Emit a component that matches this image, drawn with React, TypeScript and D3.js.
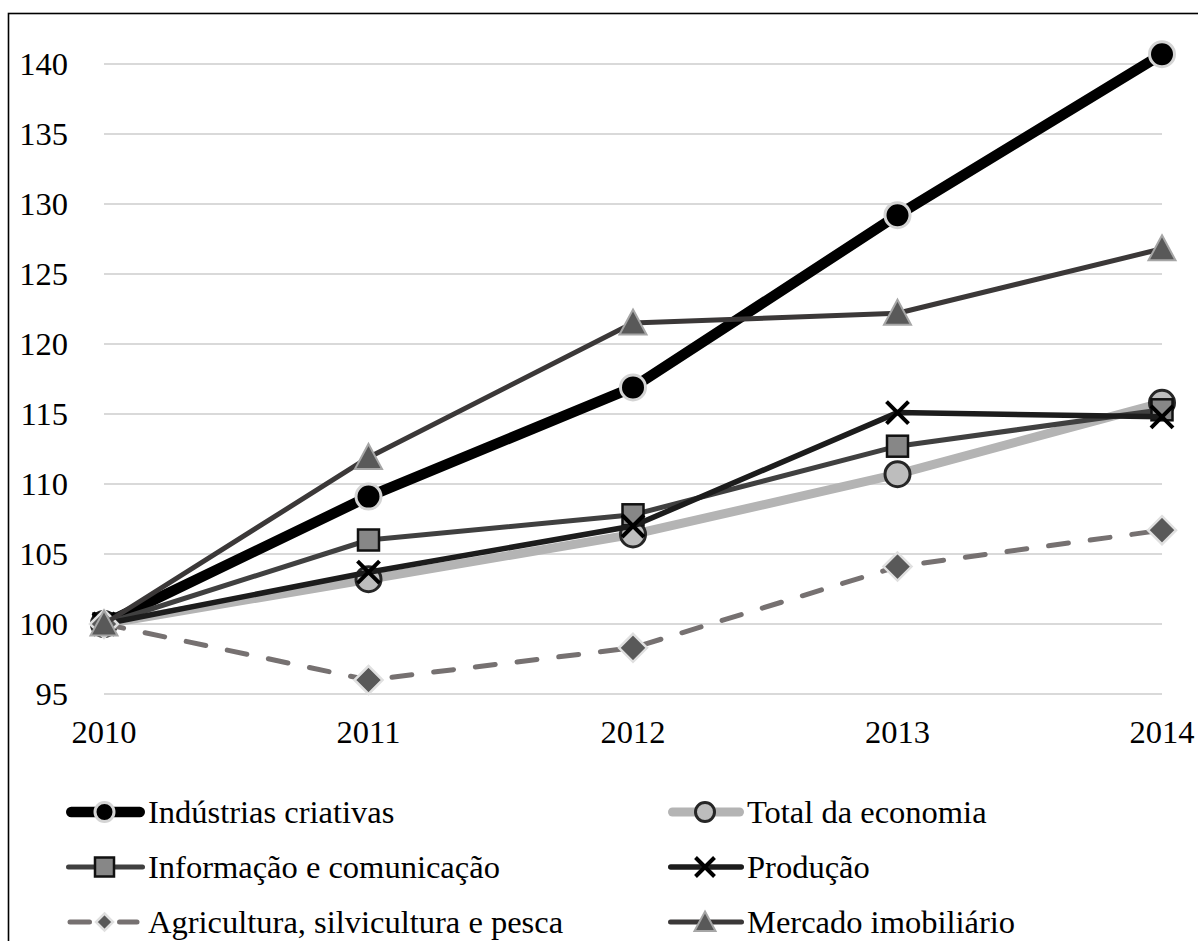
import React from "react";
import * as d3 from "d3";

// Index values (2010 = 100)
const years = ["2010", "2011", "2012", "2013", "2014"];
const industriasCriativas = [100, 109.1, 116.9, 129.2, 140.7];
const totalEconomia = [100, 103.2, 106.4, 110.7, 115.8];
const informacaoComunicacao = [100, 106.0, 107.8, 112.7, 115.3];
const producao = [100, 103.7, 107.0, 115.1, 114.8];
const agricultura = [100, 96.0, 98.3, 104.1, 106.7];
const mercadoImobiliario = [100, 111.9, 121.5, 122.2, 126.8];
const yTicks = [95, 100, 105, 110, 115, 120, 125, 130, 135, 140];

type Marker = "circle" | "square" | "x" | "diamond" | "triangle";

interface Series {
  name: string;
  values: number[];
  stroke: string;
  width: number;
  dash?: string;
  marker: Marker;
  mFill: string;
  mStroke: string;
  mStrokeW: number;
}

const series: Series[] = [
  { name: "Indústrias criativas", values: industriasCriativas, stroke: "#000000", width: 10.5, marker: "circle", mFill: "#000000", mStroke: "#d4d4d4", mStrokeW: 3 },
  { name: "Total da economia", values: totalEconomia, stroke: "#b4b4b4", width: 9, marker: "circle", mFill: "#bdbdbd", mStroke: "#262626", mStrokeW: 3 },
  { name: "Informação e comunicação", values: informacaoComunicacao, stroke: "#404040", width: 5, marker: "square", mFill: "#878787", mStroke: "#111111", mStrokeW: 2.5 },
  { name: "Produção", values: producao, stroke: "#1c1c1c", width: 5.5, marker: "x", mFill: "none", mStroke: "#000000", mStrokeW: 4 },
  { name: "Agricultura, silvicultura e pesca", values: agricultura, stroke: "#767171", width: 5, dash: "20 22", marker: "diamond", mFill: "#595959", mStroke: "#e0e0e0", mStrokeW: 2.5 },
  { name: "Mercado imobiliário", values: mercadoImobiliario, stroke: "#3b3838", width: 5, marker: "triangle", mFill: "#595959", mStroke: "#a6a6a6", mStrokeW: 2 },
];

const FONT = "'Liberation Serif', 'Times New Roman', serif";
const FS = 32.5;

const x = d3.scalePoint<string>().domain(years).range([104, 1162]);
const y = d3.scaleLinear().domain([95, 140]).range([694, 64]);

function MarkerShape({ kind, cx, cy, size, fill, stroke, sw }: { kind: Marker; cx: number; cy: number; size: number; fill: string; stroke: string; sw: number }) {
  const h = size / 2;
  switch (kind) {
    case "circle":
      return <circle cx={cx} cy={cy} r={h} fill={fill} stroke={stroke} strokeWidth={sw} />;
    case "square":
      return <rect x={cx - h} y={cy - h} width={size} height={size} fill={fill} stroke={stroke} strokeWidth={sw} />;
    case "x":
      return (
        <path
          d={`M${cx - h},${cy - h}L${cx + h},${cy + h}M${cx - h},${cy + h}L${cx + h},${cy - h}`}
          stroke={stroke}
          strokeWidth={sw}
          fill="none"
        />
      );
    case "diamond":
      return <path d={`M${cx},${cy - h}L${cx + h},${cy}L${cx},${cy + h}L${cx - h},${cy}Z`} fill={fill} stroke={stroke} strokeWidth={sw} />;
    case "triangle":
      return <path d={`M${cx},${cy - h}L${cx + h},${cy + h * 0.85}L${cx - h},${cy + h * 0.85}Z`} fill={fill} stroke={stroke} strokeWidth={sw} strokeLinejoin="miter" />;
  }
}

const plotSizes: Record<Marker, number> = { circle: 25, square: 21, x: 22, diamond: 28, triangle: 27 };
const legendSizes: Record<Marker, number> = { circle: 19, square: 19, x: 19, diamond: 17, triangle: 21 };

const legendCols = [
  { lineX0: 66, lineX1: 145, textX: 148 },
  { lineX0: 668, lineX1: 744, textX: 747 },
];
const legendRowY = [812, 867, 922];

export default function App() {
  const line = d3
    .line<number>()
    .x((_, i) => x(years[i]) as number)
    .y((v) => y(v));

  return (
    <svg width={1198} height={941} style={{ position: "absolute", left: 0, top: 0, background: "#fff" }} fontFamily={FONT}>
      <rect x={0} y={0} width={1198} height={941} fill="#ffffff" />
      <rect x={8.5} y={13.5} width={1250} height={1000} fill="none" stroke="#000" strokeWidth={1.6} />

      {/* gridlines and y labels */}
      {yTicks.map((t) => (
        <g key={t}>
          <line x1={104} x2={1162} y1={y(t)} y2={y(t)} stroke="#d9d9d9" strokeWidth={2} />
          <text x={68} y={y(t)} dy="0.34em" textAnchor="end" fontSize={FS} fill="#000">
            {t}
          </text>
        </g>
      ))}

      {/* x labels */}
      {years.map((yr) => (
        <text key={yr} x={x(yr)} y={743} textAnchor="middle" fontSize={FS} fill="#000">
          {yr}
        </text>
      ))}

      {/* series lines and markers */}
      {series.map((s) => (
        <g key={s.name}>
          <path
            d={line(s.values) || ""}
            fill="none"
            stroke={s.stroke}
            strokeWidth={s.width}
            strokeDasharray={s.dash}
            strokeLinecap={s.dash ? "round" : "butt"}
            strokeLinejoin="round"
          />
          {s.values.map((v, i) => (
            <MarkerShape
              key={i}
              kind={s.marker}
              cx={x(years[i]) as number}
              cy={y(v)}
              size={plotSizes[s.marker]}
              fill={s.mFill}
              stroke={s.mStroke}
              sw={s.mStrokeW}
            />
          ))}
        </g>
      ))}

      {/* legend */}
      {series.map((s, i) => {
        const col = legendCols[i % 2];
        const cy = legendRowY[Math.floor(i / 2)];
        const mid = (col.lineX0 + col.lineX1) / 2 - 1;
        return (
          <g key={s.name}>
            {s.dash ? (
              <>
                <line x1={col.lineX0 + 4} x2={mid - 15} y1={cy} y2={cy} stroke={s.stroke} strokeWidth={s.width} strokeLinecap="round" />
                <line x1={mid + 15} x2={col.lineX1 - 8} y1={cy} y2={cy} stroke={s.stroke} strokeWidth={s.width} strokeLinecap="round" />
              </>
            ) : (
              <line
                x1={col.lineX0 + s.width / 2}
                x2={col.lineX1 - s.width / 2}
                y1={cy}
                y2={cy}
                stroke={s.stroke}
                strokeWidth={s.width}
                strokeLinecap="round"
              />
            )}
            <MarkerShape
              kind={s.marker}
              cx={mid}
              cy={cy}
              size={legendSizes[s.marker]}
              fill={s.mFill}
              stroke={s.mStroke}
              sw={s.mStrokeW}
            />
            <text x={col.textX} y={cy + 10.5} fontSize={FS} fill="#000">
              {s.name}
            </text>
          </g>
        );
      })}
    </svg>
  );
}
